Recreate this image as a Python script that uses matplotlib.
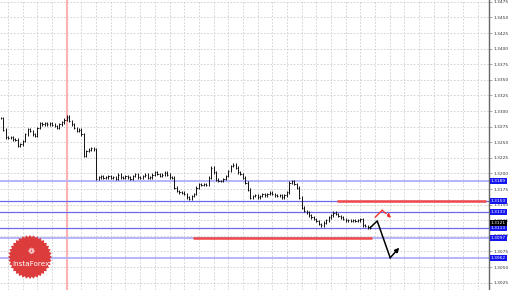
import matplotlib.pyplot as plt
import numpy as np
from matplotlib.patches import Polygon

# closing prices of each bar
closes = [
    1.3289, 1.3270, 1.3258, 1.3257, 1.3258, 1.3255, 1.3254, 1.3244, 1.3247, 1.3252,
    1.3263, 1.3271, 1.3268, 1.3263, 1.3260, 1.3273, 1.3281, 1.3279, 1.3281, 1.3279,
    1.3281, 1.3278, 1.3276, 1.3273, 1.3279, 1.3282, 1.3286, 1.3291, 1.3284, 1.3279,
    1.3273, 1.3268, 1.3270, 1.3263, 1.3228, 1.3236, 1.3238, 1.3241, 1.3239,
    1.3191, 1.3194, 1.3196, 1.3193, 1.3194, 1.3196, 1.3193, 1.3194, 1.3191, 1.3198,
    1.3194, 1.3193, 1.3196, 1.3194, 1.3191, 1.3196, 1.3199, 1.3194, 1.3193, 1.3196,
    1.3198, 1.3193, 1.3194, 1.3198, 1.3202, 1.3199, 1.3196, 1.3198, 1.3201, 1.3198,
    1.3194, 1.3193, 1.3177, 1.3172, 1.3170, 1.3169, 1.3167, 1.3162, 1.3159, 1.3164,
    1.3167, 1.3177, 1.3183, 1.3182, 1.3183, 1.3182, 1.3193, 1.3209, 1.3202, 1.3190,
    1.3188, 1.3188, 1.3191, 1.3196, 1.3204, 1.3212, 1.3214, 1.3209, 1.3202, 1.3199,
    1.3193, 1.3185, 1.3174, 1.3161, 1.3164, 1.3165, 1.3162, 1.3164, 1.3167, 1.3165,
    1.3167, 1.3169, 1.3167, 1.3165, 1.3164, 1.3165, 1.3162, 1.3165, 1.3170, 1.3185,
    1.3188, 1.3183, 1.3177, 1.3161, 1.3145, 1.3140, 1.3138, 1.3133, 1.3130, 1.3127,
    1.3124, 1.3119, 1.3117, 1.3121, 1.3125, 1.3130, 1.3133, 1.3137, 1.3135, 1.3132,
    1.3130, 1.3127, 1.3125, 1.3125, 1.3124, 1.3125, 1.3124, 1.3125, 1.3127, 1.3117,
    1.3116, 1.3114, 1.3113,
]
current_price = 1.3121

# horizontal levels drawn on the chart
strong_levels = [1.3156, 1.3138, 1.3113]
light_levels = [1.3188, 1.3097, 1.3065]
level_labels = {1.3188: '1.3189', 1.3156: '1.3153', 1.3138: '1.3133',
                1.3113: '1.3113', 1.3097: '1.3097', 1.3065: '1.3062'}

# red resistance / support segments (start bar, end bar, price)
red_segments = [(137.6, 198.4, 1.3156), (78.8, 151.8, 1.3097)]
marker_bar = 26.9

# forecast paths
main_x = [151.0, 153.9, 159.2, 162.9]
main_y = [1.3113, 1.3124, 1.3065, 1.3081]
alt_x = [153.1, 155.9, 159.6]
alt_y = [1.3130, 1.3141, 1.3129]

y_ticks = [1.3475, 1.3450, 1.3425, 1.3400, 1.3375, 1.3350, 1.3325, 1.3300, 1.3275,
           1.3250, 1.3225, 1.3200, 1.3175, 1.3150, 1.3125, 1.3100, 1.3075, 1.3050, 1.3025]

fig = plt.figure(figsize=(5.1, 2.9), dpi=100)
ax = fig.add_axes([0, 0, 489 / 510, 1])
ax.set_xlim(-0.3, 199.6)
ax.set_ylim(1.30133, 1.3478)

# grid
for gx in np.arange(3, 200, 6):
    ax.axvline(gx, color='#cccccc', lw=0.6, ls=(0, (2, 2)), zorder=0)
for gy in y_ticks:
    ax.axhline(gy, color='#cccccc', lw=0.6, ls=(0, (2, 2)), zorder=0)

ax.axvline(marker_bar, color='#ffb0b0', lw=1.5, zorder=1)

# levels
for lv in light_levels:
    ax.axhline(lv, color='#b4b4fa', lw=1.4, zorder=1)
for lv in strong_levels:
    ax.axhline(lv, color='#6a6af0', lw=0.9, zorder=1)
for x0, x1, p in red_segments:
    ax.hlines(p, x0, x1, color='#f04848', lw=1.8, zorder=3)

# bars
wick = 0.00022
prev = closes[0]
for i, c in enumerate(closes):
    lo, hi = min(prev, c), max(prev, c)
    ax.vlines(i, lo - wick, hi + wick, color='#111111', lw=0.7, zorder=4)
    ax.hlines(c, i, i + 0.5, color='#111111', lw=0.6, zorder=4)
    prev = c

# forecast arrows
ax.plot(main_x[:-1], main_y[:-1], color='black', lw=1.1, zorder=5)
ax.annotate('', xy=(main_x[-1], main_y[-1]), xytext=(main_x[-2], main_y[-2]),
            arrowprops=dict(arrowstyle='-|>', color='black', lw=1.1,
                            mutation_scale=6, shrinkA=0, shrinkB=0), zorder=5)
ax.plot(alt_x[:2], alt_y[:2], color='#f03030', lw=1.0, zorder=5)
ax.annotate('', xy=(alt_x[2], alt_y[2]), xytext=(alt_x[1], alt_y[1]),
            arrowprops=dict(arrowstyle='-|>', color='#f03030', lw=1.0, ls='--',
                            mutation_scale=5, shrinkA=0, shrinkB=0), zorder=5)

# axis
for s in ['left', 'top', 'bottom']:
    ax.spines[s].set_visible(False)
ax.spines['right'].set_color('#666666')
ax.spines['right'].set_linewidth(1.0)
ax.set_xticks([])
ax.yaxis.tick_right()
ax.set_yticks(y_ticks)
ax.set_yticklabels(['%.4f' % t for t in y_ticks])
ax.tick_params(axis='y', length=2, width=0.5, color='#888888', pad=1.5,
               labelsize=3.2, labelcolor='#333333')

tr = ax.get_yaxis_transform()
for lv, lab in level_labels.items():
    ax.text(1.004, lv, lab, transform=tr, fontsize=3.2, color='white', va='center',
            ha='left', bbox=dict(boxstyle='square,pad=0.2', fc='#1515ee', ec='none'),
            clip_on=False, zorder=6)
ax.text(1.004, current_price, '%.4f' % current_price, transform=tr, fontsize=3.2,
        color='white', va='center', ha='left',
        bbox=dict(boxstyle='square,pad=0.2', fc='black', ec='none'), clip_on=False, zorder=6)

# InstaForex badge
cx, cy, r = 30, 257, 22
ang = np.linspace(0, 2 * np.pi, 73)[:-1]
rad = np.where(np.arange(72) % 2 == 0, r, r - 2.2)
pts = np.column_stack([cx + rad * np.cos(ang), 290 - (cy + rad * np.sin(ang))])
fig.patches.append(Polygon(pts, closed=True, transform=None, fc='#dc3c3c', ec='none', zorder=7))
fig.text(31 / 510, 1 - 264 / 290, 'InstaForex', color='white', fontsize=5.2,
         ha='center', va='center', zorder=8)
fig.text(31 / 510, 1 - 251 / 290, u'\u2741', color='white', fontsize=6,
         ha='center', va='center', zorder=8)

fig.savefig('out.png', dpi=100)
